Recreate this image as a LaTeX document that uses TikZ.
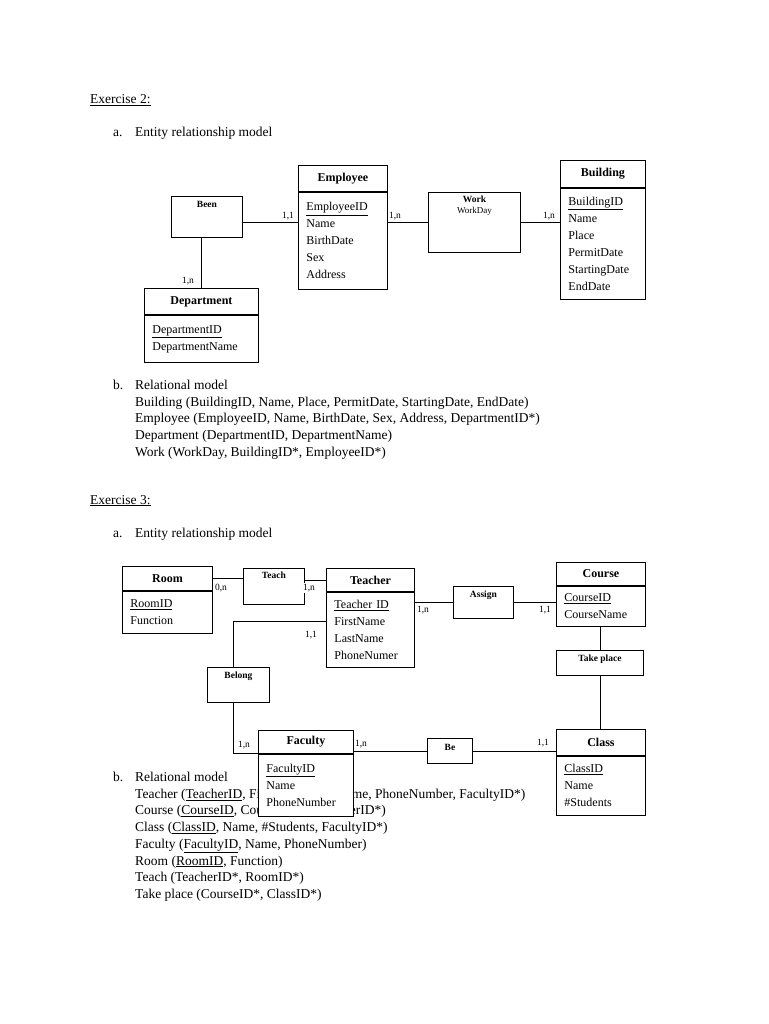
\documentclass[tikz,border=0pt]{standalone}
\usepackage{fontspec}
\setmainfont{Liberation Serif}
\usetikzlibrary{positioning}

\tikzset{
	entityhead/.style={draw, line width=0.9pt, fill=white, anchor=north west, inner sep=0pt, font=\bfseries\fontsize{12}{14}\selectfont},
	entitybody/.style={draw, line width=0.9pt, fill=white, inner xsep=8pt, inner ysep=2pt, align=left, font=\fontsize{12}{17}\selectfont},
	relbox/.style={draw, line width=0.9pt, fill=white, anchor=north west, inner sep=0pt},
	relname/.style={font=\bfseries\fontsize{9.5}{11}\selectfont, inner sep=0pt, align=center},
	card/.style={font=\fontsize{9.5}{10}\selectfont, fill=white, inner sep=1pt},
	doctext/.style={anchor=base west, inner sep=0pt, font=\fontsize{13.5}{16.7}\selectfont},
	conn/.style={line width=0.9pt}
}

\begin{document}
\begin{tikzpicture}[x=1pt, y=-1pt]
	
	\fill[white] (0,0) rectangle (768,1024);
	\useasboundingbox (0,0) rectangle (768,1024);
	
	% text of the page
	\node[doctext] (ex2) at (90,104) {\underline{Exercise 2:}};
	\node[doctext] (ex2a) at (113,137) {a.};
	\node[doctext] (ex2atitle) at (135,137) {Entity relationship model};
	\node[doctext] (ex2b) at (113,389) {b.};
	\node[doctext, align=left, anchor=north west] (ex2btext) at (135,380) {Relational model\\
		Building (BuildingID, Name, Place, PermitDate, StartingDate, EndDate)\\
		Employee (EmployeeID, Name, BirthDate, Sex, Address, DepartmentID*)\\
		Department (DepartmentID, DepartmentName)\\
		Work (WorkDay, BuildingID*, EmployeeID*)};
	
	\node[doctext] (ex3) at (90,504) {\underline{Exercise 3:}};
	\node[doctext] (ex3a) at (113,537) {a.};
	\node[doctext] (ex3atitle) at (135,537) {Entity relationship model};
	\node[doctext] (ex3b) at (113,781) {b.};
	\node[doctext, align=left, anchor=north west] (ex3btext) at (135,772) {Relational model\\
		Teacher (\underline{TeacherID}, FirstName, LastName, PhoneNumber, FacultyID*)\\
		Course (\underline{CourseID}, CourseName, TeacherID*)\\
		Class (\underline{ClassID}, Name, \#Students, FacultyID*)\\
		Faculty (\underline{FacultyID}, Name, PhoneNumber)\\
		Room (\underline{RoomID}, Function)\\
		Teach (TeacherID*, RoomID*)\\
		Take place (CourseID*, ClassID*)};
	
	% exercise 2
	\node[entityhead, minimum width=89pt, minimum height=26pt] (emp) at (298,165) {Employee};
	\node[entitybody, below=0pt of emp, text width=73pt, minimum height=97pt] (empattr) {\underline{EmployeeID}\\Name\\BirthDate\\Sex\\Address};
	
	\node[entityhead, minimum width=85pt, minimum height=27pt] (bld) at (560,160) {Building};
	\node[entitybody, below=0pt of bld, text width=69pt, minimum height=111pt] (bldattr) {\underline{BuildingID}\\Name\\Place\\PermitDate\\StartingDate\\EndDate};
	
	\node[entityhead, minimum width=114pt, minimum height=26pt] (dep) at (144,288) {Department};
	\node[entitybody, below=0pt of dep, text width=98pt, minimum height=47pt] (depattr) {\underline{DepartmentID}\\DepartmentName};
	
	\node[relbox, minimum width=71pt, minimum height=41pt] (been) at (171,196) {};
	\node[relname, below=5pt of been.north] (beenname) {Been};
	
	\node[relbox, minimum width=92pt, minimum height=60pt] (work) at (428,192) {};
	\node[relname, below=4pt of work.north] (workname) {Work\\[0pt]{\mdseries\fontsize{9}{10}\selectfont WorkDay}};
	
	\draw[conn] ([yshift=-6pt]been.east) -- ([yshift=-6pt]been.east -| empattr.west);
	\draw[conn] (empattr.east |- work.west) -- (work.west);
	\draw[conn] (work.east) -- (work.east -| bldattr.west);
	\draw[conn] (dep.north |- been.south) -- (dep.north);
	
	\node[card] (cardempl) at (288,216) {1,1};
	\node[card] (cardempr) at (395,216) {1,n};
	\node[card] (cardbld) at (549,216) {1,n};
	\node[card] (carddep) at (188,281) {1,n};
	
	% exercise 3
	\node[entityhead, minimum width=90pt, minimum height=24pt] (room) at (122,566) {Room};
	\node[entitybody, below=0pt of room, text width=74pt, minimum height=42pt] (roomattr) {\underline{RoomID}\\Function};
	
	\node[entityhead, minimum width=88pt, minimum height=23pt] (tch) at (326,568) {Teacher};
	\node[entitybody, below=0pt of tch, text width=72pt, minimum height=75pt] (tchattr) {\underline{Teacher ID}\\FirstName\\LastName\\PhoneNumer};
	
	\node[entityhead, minimum width=89pt, minimum height=23pt] (crs) at (556,562) {Course};
	\node[entitybody, below=0pt of crs, text width=73pt, minimum height=40pt] (crsattr) {\underline{CourseID}\\CourseName};
	
	\node[entityhead, minimum width=95pt, minimum height=23pt] (fac) at (258,730) {Faculty};
	\node[entitybody, below=0pt of fac, text width=79pt, minimum height=62pt] (facattr) {\underline{FacultyID}\\Name\\PhoneNumber};
	
	\node[entityhead, minimum width=89pt, minimum height=26pt] (cls) at (556,729) {Class};
	\node[entitybody, below=0pt of cls, text width=73pt, minimum height=59pt] (clsattr) {\underline{ClassID}\\Name\\\#Students};
	
	\node[relbox, minimum width=61pt, minimum height=36pt] (teach) at (243,568) {};
	\node[relname, below=4pt of teach.north] (teachname) {Teach};
	
	\node[relbox, minimum width=60pt, minimum height=32pt] (assign) at (453,586) {};
	\node[relname, below=5pt of assign.north] (assignname) {Assign};
	
	\node[relbox, minimum width=87pt, minimum height=25pt] (tkp) at (556,650) {};
	\node[relname, below=5pt of tkp.north] (tkpname) {Take place};
	
	\node[relbox, minimum width=62pt, minimum height=35pt] (belong) at (207,667) {};
	\node[relname, below=5pt of belong.north] (belongname) {Belong};
	
	\node[relbox, minimum width=45pt, minimum height=25pt] (be) at (427,738) {};
	\node[relname, below=6pt of be.north] (bename) {Be};
	
	\draw[conn] (room.east) -- (room.east -| teach.west);
	\draw[conn] (teach.east |- tch.west) -- (tch.west);
	\draw[conn] ([yshift=8pt]tchattr.west) -| ([xshift=-5pt]belong.north);
	\draw[conn] ([xshift=-5pt]belong.south) |- (fac.south west);
	\draw[conn] (tchattr.east |- assign.west) -- (assign.west);
	\draw[conn] (assign.east) -- (assign.east -| crsattr.west);
	\draw[conn] (tkp.north |- crsattr.south) -- (tkp.north);
	\draw[conn] (tkp.south) -- (tkp.south |- cls.north);
	\draw[conn] (be.west -| fac.east) -- (be.west);
	\draw[conn] (be.east) -- (be.east -| cls.west);
	
	\node[card] (cardroom) at (221,588) {0,n};
	\node[card] (cardteach) at (309,588) {1,n};
	\node[card] (cardbelong) at (311,635) {1,1};
	\node[card] (cardassign) at (423,610) {1,n};
	\node[card] (cardcrs) at (545,610) {1,1};
	\node[card] (cardfacl) at (244,745) {1,n};
	\node[card] (cardfacr) at (361,744) {1,n};
	\node[card] (cardcls) at (543,743) {1,1};
	
\end{tikzpicture}
\end{document}
